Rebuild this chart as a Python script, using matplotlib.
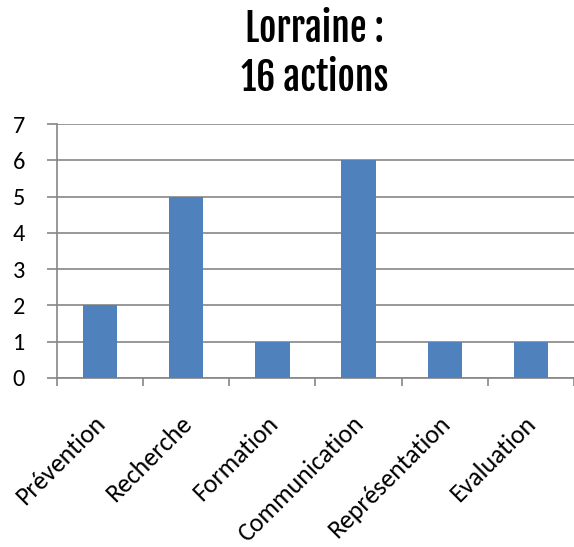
import matplotlib
matplotlib.use('Agg')
import matplotlib.pyplot as plt

categories = ['Prévention', 'Recherche', 'Formation', 'Communication', 'Représentation', 'Evaluation']
actions = [2, 5, 1, 6, 1, 1]
title = 'Lorraine :\n16 actions'

bar_color = '#4F81BD'
grey = '#868686'
label_font = ['Carlito', 'Lato', 'DejaVu Sans']
title_font = ['Fjalla One', 'Anton', 'Teko', 'Liberation Sans Narrow', 'DejaVu Sans']

fig = plt.figure(figsize=(5.74, 5.47), dpi=100)
ax = fig.add_axes([0.0993, 0.309, 0.9007, 0.464])

x = list(range(len(categories)))
ax.bar(x, actions, width=0.4, color=bar_color, zorder=3)

ax.set_xlim(-0.5, len(categories) - 0.5)
ax.set_ylim(0, 7)
ax.set_yticks(range(0, 8))
ax.yaxis.grid(True, color=grey, linewidth=1.2, zorder=0)

for side in ['top', 'right']:
    ax.spines[side].set_visible(False)
for side in ['left', 'bottom']:
    ax.spines[side].set_color(grey)
    ax.spines[side].set_linewidth(1.2)

# category boundaries carry the ticks, labels sit (a bit left of) the bar centres
ax.set_xticks([i - 0.5 for i in range(len(categories) + 1)])
ax.set_xticklabels([])
ax.set_xticks([i - 0.08 for i in x], minor=True)
ax.set_xticklabels(categories, minor=True, rotation=45, ha='right',
                   rotation_mode='anchor')
for lab in ax.get_xticklabels(minor=True):
    lab.set_family(label_font)
    lab.set_fontsize(18.5)
ax.tick_params(axis='x', which='minor', length=0, pad=24)
ax.tick_params(axis='x', which='major', length=6, color=grey, width=1.2)
ax.tick_params(axis='y', length=7, color=grey, width=1.2, pad=16)
for lab in ax.get_yticklabels():
    lab.set_family(label_font)
    lab.set_fontsize(17.5)

fig.suptitle(title, x=0.548, y=0.985, fontsize=27, fontweight='bold',
             family=title_font, linespacing=1.2)

plt.savefig('out.png', dpi=100)
